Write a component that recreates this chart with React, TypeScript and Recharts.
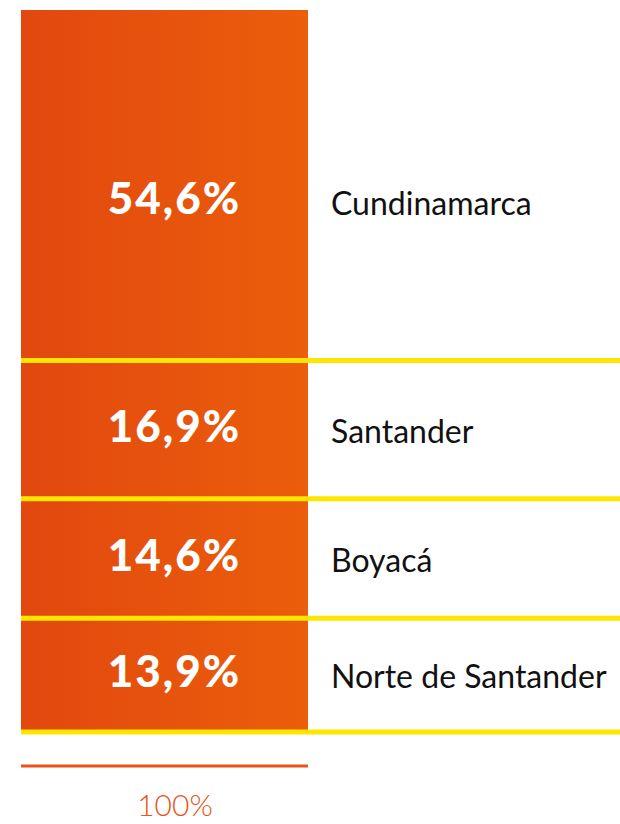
import { BarChart, Bar, XAxis, YAxis, ReferenceLine, LabelList } from "recharts";

const regions = ["Cundinamarca", "Santander", "Boyacá", "Norte de Santander"];
const shares = [54.6, 16.9, 14.6, 13.9];
const shareLabels = ["54,6%", "16,9%", "14,6%", "13,9%"];
const totalLabel = "100%";

const keys = regions.map((_, i) => `s${i}`);
const row: Record<string, string | number> = { name: "total" };
shares.forEach((v, i) => {
  row[keys[i]] = v;
});
const data = [row];

// running totals, where the yellow separators sit
const cumulative = shares.reduce<number[]>((acc, v) => {
  const prev = acc.length ? acc[acc.length - 1] : 0;
  return [...acc, Math.round((prev + v) * 10) / 10];
}, []);

const FONT = "Lato, 'Open Sans', sans-serif";

function segmentLabel(i: number) {
  return (props: any) => {
    const x = Number(props.x);
    const y = Number(props.y);
    const w = Number(props.width);
    const h = Number(props.height);
    // reversed axis gives negative heights, so sort the edges first
    const lo = Math.min(y, y + h);
    const hi = Math.max(y, y + h);
    const top = Math.max(lo, 44);
    const cy = (top + hi) / 2;
    return (
      <g>
        <text x={x + w / 2 + 10} y={cy + 12} textAnchor="middle" fill="#fff" fontFamily={FONT} fontWeight={900} fontSize={44} letterSpacing={2}>
          {shareLabels[i]}
        </text>
        <text x={x + w + 23} y={cy + 13} fill="#111" fontFamily={FONT} fontSize={32}>
          {regions[i]}
        </text>
      </g>
    );
  };
}

function TotalTick(props: any) {
  const { x, y, payload } = props;
  const half = typeof payload?.offset === "number" && payload.offset > 5 ? payload.offset : 143.5;
  return (
    <g>
      <line x1={x - half} x2={x + half} y1={y} y2={y} stroke="#E9531A" strokeWidth={3} />
      <text x={x + 10.5} y={y + 50} textAnchor="middle" fill="#E8531A" fontFamily={FONT} fontWeight={300} fontSize={30}>
        {totalLabel}
      </text>
    </g>
  );
}

export default function App() {
  return (
    <>
      <style>{"body{margin:0}"}</style>
      <BarChart width={620} height={824} data={data} margin={{ top: 10, right: 0, left: 21, bottom: 0 }} barCategoryGap={0}>
        <defs>
          <linearGradient id="barFill" x1="0" y1="0" x2="1" y2="0">
            <stop offset="0%" stopColor="#E2480F" />
            <stop offset="100%" stopColor="#EB5E0B" />
          </linearGradient>
        </defs>
        <XAxis xAxisId="bar" dataKey="name" padding={{ left: 0, right: 312 }} axisLine={false} tickLine={false} tick={false} height={34} />
        <XAxis
          xAxisId="total"
          dataKey="name"
          padding={{ left: 0, right: 312 }}
          axisLine={false}
          tickLine={false}
          tickSize={0}
          tickMargin={0}
          height={58}
          interval={0}
          tick={TotalTick}
        />
        <YAxis hide reversed type="number" domain={[11.75, 100]} allowDataOverflow />
        {keys.map((k, i) => (
          <Bar key={k} dataKey={k} stackId="a" xAxisId="bar" fill="url(#barFill)" isAnimationActive={false}>
            <LabelList dataKey={k} content={segmentLabel(i)} />
          </Bar>
        ))}
        {cumulative.map((v) => (
          <ReferenceLine key={v} y={v} xAxisId="bar" stroke="#FFE600" strokeWidth={5} />
        ))}
      </BarChart>
    </>
  );
}
